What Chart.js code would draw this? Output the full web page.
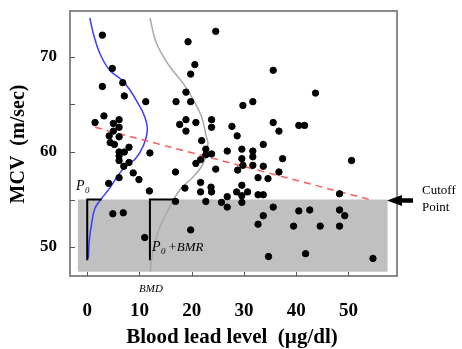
<!DOCTYPE html>
<html lang="en">
<head>
    <meta charset="UTF-8">
    <title>MCV vs Blood lead level</title>
    <script src="https://cdn.jsdelivr.net/npm/chart.js"></script>
    <style>
        html, body { margin: 0; padding: 0; background: #fff; }
        #wrap { width: 462px; height: 349px; }
    </style>
</head>
<body>
    <div id="wrap"><canvas id="mcvChart" width="462" height="349"></canvas></div>

    <script>
        // tick labels
        const xTicks = [0, 10, 20, 30, 40, 50];
        const yTicks = [50, 60, 70];
        const yTickMarks = [50, 55, 60, 65, 70];

        // observed subjects (blood lead, MCV)
        const leadLevel = [
            1.5, 3.2, 5.0, 6.1, 6.1, 5.0, 4.2, 6.1, 4.4, 5.2, 6.1, 7.1, 8.0, 6.1, 6.1, 8.0, 7.0,
            8.8, 6.1, 9.9, 4.1, 11.9, 12.0, 4.9, 6.9, 11.0,
            2.9, 4.8, 6.8, 2.9, 7.1, 11.2, 17.0, 17.7, 16.9, 16.9,
            24.6, 19.3, 20.6, 19.8, 35.6, 18.9, 19.8, 29.8, 31.7, 18.9, 18.9, 20.8, 23.8, 23.8,
            27.7, 28.7, 35.6, 36.7, 21.9, 33.7, 43.7, 40.5, 41.6,
            22.7, 22.7, 23.8, 21.7, 20.8, 24.6, 26.8, 29.6, 29.6, 31.7, 31.7, 29.8, 28.8, 31.7,
            33.7, 37.4, 36.7, 32.7, 34.6, 18.7, 21.7, 21.7, 23.7, 23.8, 29.6, 28.6, 30.7, 29.6,
            26.8, 32.7, 33.7, 22.7, 25.7, 26.8, 29.6, 35.6, 33.7, 32.7, 19.8, 34.7,
            50.6, 48.3, 40.5, 42.6, 48.3, 49.3, 39.5, 44.6, 48.3, 41.8, 54.7
        ];
        const mcv = [
            63.1, 63.8, 63.0, 63.4, 62.6, 62.2, 61.7, 61.6, 61.0, 60.8, 60.0, 60.0, 60.5, 59.6, 59.1, 58.9, 58.5,
            57.8, 57.3, 57.1, 56.7, 55.9, 59.9, 53.5, 53.6, 51.0,
            72.3, 68.8, 67.3, 66.9, 65.9, 65.3, 65.3, 62.9, 57.9, 54.8,
            72.7, 71.6, 69.2, 68.2, 68.6, 66.3, 65.3, 64.9, 65.3, 63.4, 62.2, 63.1, 63.4, 62.6,
            62.7, 61.7, 63.1, 62.2, 61.2, 60.8, 66.2, 62.8, 62.8,
            60.3, 59.7, 59.8, 59.2, 58.8, 58.2, 60.1, 60.3, 59.3, 60.1, 59.5, 58.6, 58.1, 58.6,
            58.5, 59.3, 57.9, 57.3, 57.2, 56.2, 56.8, 55.8, 56.3, 55.8, 56.5, 55.8, 55.8, 55.4,
            55.3, 55.5, 55.5, 54.8, 54.7, 54.2, 54.7, 54.2, 53.3, 52.4, 51.8, 49.0,
            59.1, 55.6, 53.8, 53.9, 53.9, 53.3, 52.2, 52.2, 52.2, 49.3, 48.8
        ];

        // response distribution at zero dose (blue) and at BMD (grey)
        const p0CurveX = [0.5, 1.15, 2.4, 4.3, 6.6, 8.2, 9.75, 11.0, 11.5, 10.7, 9.1, 7.8, 6.25, 4.3, 2.75, 1.5, 0.85, 0.4, 0.2];
        const p0CurveY = [74.1, 72.5, 70.4, 68.6, 67.6, 66.5, 65.1, 63.7, 62.3, 60.6, 59.2, 58.8, 57.8, 56.2, 55.1, 54.1, 52.5, 50.7, 48.8];
        const bmdCurveX = [12.0, 13.3, 15.8, 18.4, 20.3, 21.9, 22.8, 23.1, 22.2, 20.3, 17.7, 15.8, 13.9, 12.9, 12.3, 12.1];
        const bmdCurveY = [74.1, 71.4, 69.0, 67.2, 65.5, 63.7, 61.6, 60.9, 58.8, 57.4, 56.0, 54.2, 52.1, 50.4, 48.6, 47.4];

        // fitted trend line
        const trendX = [1.5, 54];
        const trendY = [62.6, 55.0];

        // P0 and P0+BMR brackets
        const p0BracketX = [0, 0, 2.75];
        const p0BracketY = [48.6, 55, 55];
        const bmrBracketX = [12, 12, 16.8];
        const bmrBracketY = [48.6, 55, 55];

        const cutoff = 55;
        const bmd = 12;
        const shadeX = [-1.8, 57.5];
        const shadeBottom = 47.4;

        const toPoints = (xs, ys) => xs.map((x, i) => ({ x: x, y: ys[i] }));

        // grey region, box, ticks and all the labels
        const decorations = {
            id: 'decorations',
            beforeDatasetsDraw(chart) {
                const { ctx, scales: { x, y } } = chart;
                ctx.save();
                ctx.fillStyle = '#c0c0c0';
                const left = x.getPixelForValue(shadeX[0]);
                const right = x.getPixelForValue(shadeX[1]);
                const top = y.getPixelForValue(cutoff);
                const bottom = y.getPixelForValue(shadeBottom);
                ctx.fillRect(left, top, right - left, bottom - top);
                ctx.restore();
            },
            afterDraw(chart) {
                const { ctx, chartArea: a, scales: { x, y } } = chart;
                ctx.save();

                // frame
                ctx.strokeStyle = '#8a8a8a';
                ctx.lineWidth = 2;
                ctx.strokeRect(a.left, a.top, a.right - a.left, a.bottom - a.top);

                // inside tick marks
                ctx.strokeStyle = '#555';
                ctx.lineWidth = 1;
                yTickMarks.forEach(v => {
                    const py = Math.round(y.getPixelForValue(v)) + 0.5;
                    ctx.beginPath();
                    ctx.moveTo(a.left, py);
                    ctx.lineTo(a.left + 5, py);
                    ctx.stroke();
                });
                xTicks.forEach(v => {
                    const px = Math.round(x.getPixelForValue(v)) + 0.5;
                    ctx.beginPath();
                    ctx.moveTo(px, a.bottom);
                    ctx.lineTo(px, a.bottom - 4);
                    ctx.stroke();
                });

                // tick labels
                ctx.fillStyle = '#000';
                ctx.font = 'bold 19px "Liberation Serif", "DejaVu Serif", serif';
                ctx.textAlign = 'center';
                ctx.textBaseline = 'middle';
                xTicks.forEach(v => ctx.fillText(String(v), x.getPixelForValue(v), 311));
                ctx.font = 'bold 17px "Liberation Serif", "DejaVu Serif", serif';
                ctx.textAlign = 'right';
                yTicks.forEach(v => ctx.fillText(String(v), 57, y.getPixelForValue(v)));

                // axis titles
                ctx.font = 'bold 21px "Liberation Serif", "DejaVu Serif", serif';
                ctx.textAlign = 'center';
                ctx.fillText('Blood lead level  (\u00b5g/dl)', 232, 338);
                ctx.font = 'bold 20px "Liberation Serif", "DejaVu Serif", serif';
                ctx.save();
                ctx.translate(19, 144);
                ctx.rotate(-Math.PI / 2);
                ctx.fillText('MCV  (m/sec)', 0, 0);
                ctx.restore();

                // P0 / P0+BMR / BMD
                ctx.textAlign = 'left';
                ctx.textBaseline = 'alphabetic';
                ctx.font = 'italic 14px "Liberation Serif", serif';
                ctx.fillText('P', 76, 190);
                ctx.fillText('P', 152, 251);
                ctx.font = 'italic 9px "Liberation Serif", serif';
                ctx.fillText('0', 85, 193);
                ctx.fillText('0', 161, 254);
                ctx.font = 'italic 13px "Liberation Serif", serif';
                ctx.fillText('+BMR', 168, 251);
                ctx.font = 'italic 11px "Liberation Serif", serif';
                ctx.textAlign = 'center';
                ctx.fillText('BMD', x.getPixelForValue(bmd) + 1, 292);

                // cutoff arrow
                const ay = y.getPixelForValue(cutoff) + 1;
                ctx.fillStyle = '#000';
                ctx.beginPath();
                ctx.moveTo(387, ay);
                ctx.lineTo(402, ay - 5.5);
                ctx.lineTo(402, ay - 2.3);
                ctx.lineTo(413, ay - 2.3);
                ctx.lineTo(413, ay + 2.3);
                ctx.lineTo(402, ay + 2.3);
                ctx.lineTo(402, ay + 5.5);
                ctx.closePath();
                ctx.fill();

                ctx.font = '13px "Liberation Serif", serif';
                ctx.textAlign = 'left';
                ctx.textBaseline = 'middle';
                ctx.fillText('Cutoff', 422, 191);
                ctx.fillText('Point', 422, 208);

                ctx.restore();
            }
        };

        const ctx = document.getElementById('mcvChart').getContext('2d');
        const chart = new Chart(ctx, {
            type: 'scatter',
            data: {
                datasets: [
                    {
                        label: 'Subjects',
                        data: toPoints(leadLevel, mcv),
                        backgroundColor: '#000',
                        borderColor: '#000',
                        pointRadius: 3.2,
                        pointHoverRadius: 3.2
                    },
                    {
                        label: 'P0 bracket',
                        data: toPoints(p0BracketX, p0BracketY),
                        showLine: true,
                        borderColor: '#000',
                        borderWidth: 2,
                        pointRadius: 0,
                        tension: 0
                    },
                    {
                        label: 'P0+BMR bracket',
                        data: toPoints(bmrBracketX, bmrBracketY),
                        showLine: true,
                        borderColor: '#000',
                        borderWidth: 2,
                        pointRadius: 0,
                        tension: 0
                    },
                    {
                        label: 'Trend',
                        data: toPoints(trendX, trendY),
                        showLine: true,
                        borderColor: '#ff5a5a',
                        borderWidth: 1.5,
                        borderDash: [7, 5],
                        pointRadius: 0
                    },
                    {
                        label: 'Distribution at 0',
                        data: toPoints(p0CurveX, p0CurveY),
                        showLine: true,
                        borderColor: '#3c3cff',
                        borderWidth: 1.5,
                        pointRadius: 0,
                        tension: 0.4
                    },
                    {
                        label: 'Distribution at BMD',
                        data: toPoints(bmdCurveX, bmdCurveY),
                        showLine: true,
                        borderColor: '#a8a8a8',
                        borderWidth: 1.5,
                        pointRadius: 0,
                        tension: 0.4
                    }
                ]
            },
            options: {
                responsive: false,
                animation: false,
                layout: { padding: { left: 70, right: 65, top: 11, bottom: 73 } },
                plugins: {
                    legend: { display: false },
                    tooltip: { enabled: false }
                },
                scales: {
                    x: { type: 'linear', min: -3.3, max: 59.3, display: false },
                    y: { type: 'linear', min: 46.95, max: 74.84, display: false }
                }
            },
            plugins: [decorations]
        });
    </script>
</body>
</html>
